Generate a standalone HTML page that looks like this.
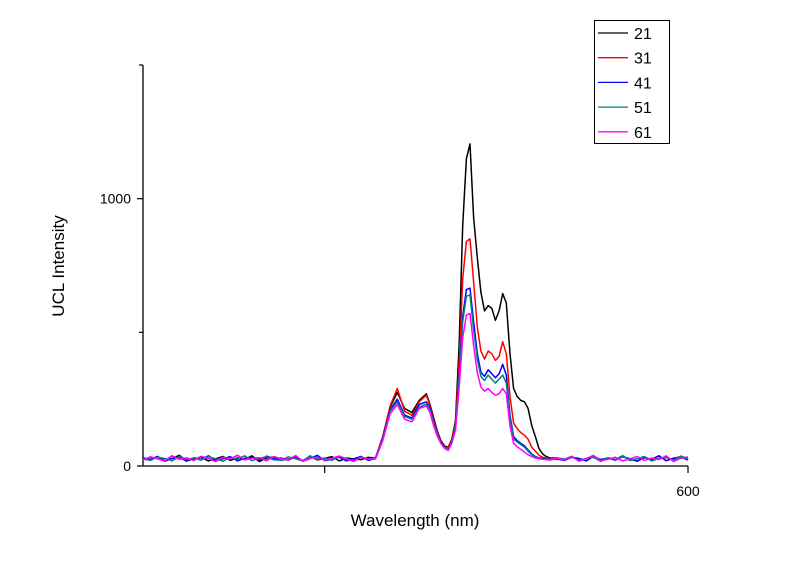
<!DOCTYPE html>
<html><head><meta charset="utf-8"><style>
body{margin:0;background:#fff}
svg{display:block;font-family:"Liberation Sans",Arial,sans-serif}
</style></head><body>
<svg id="chart" width="800" height="561">
<g id="axes"></g>
<g id="series"></g>
<g id="legend"></g>
<text x="415" y="526" font-size="17" text-anchor="middle">Wavelength (nm)</text>
<text transform="translate(64,266) rotate(-90)" font-size="17" text-anchor="middle">UCL Intensity</text>
</svg>
<script>
const wavelengths = [];
for (let w = 450; w <= 528; w += 2) wavelengths.push(w);
for (let w = 529; w <= 562; w += 1) wavelengths.push(w);
for (let w = 564; w <= 600; w += 2) wavelengths.push(w);
const seriesNames = ["21","31","41","51","61"];
const seriesColors = ["#000000","#ff0000","#0000ff","#008080","#ff00ff"];
const baseA = [30,22,35,18,28,40,20,25,33,19,27,36,21,30,24,38,17,29,34,22,26,31,20,37,23,28,35,19,30,26,24,32];
const baseB = [30,25,36,20,28,33,18,31,24,38,21,27,35,19,29,32,22,37,26];
const baseC = [22,34,27,19,38,25,30,21,36,28,17,33,26,40,23,29,31,20,35,27,24,39,18,30,32,22,28,37,25,19,33,26];
const baseD = [26,21,33,28,19,36,24,30,22,35,27,18,31,25,38,20,29,34,23];
const pre21 = [30,110,220,275,215,200,245,270];
const pre31 = [30,110,225,290,205,190,240,265];
const pre41 = [28,105,210,250,190,180,230,240];
const pre51 = [28,100,205,240,185,175,220,232];
const pre61 = [26,95,195,230,175,165,215,225];
const peak21 = [230,180,130,95,75,70,100,170,450,900,1150,1205,930,780,650,580,600,590,545,580,645,610,420,290,260,245,240,215,150,110,65,45,35,30];
const peak31 = [225,170,125,92,72,68,95,160,380,700,840,850,690,520,430,400,430,420,395,410,465,420,260,160,140,125,115,100,70,55,40,32,30,28];
const peak41 = [215,160,120,88,70,60,90,150,330,560,660,665,540,420,350,335,360,345,330,345,380,340,190,110,95,85,75,60,45,35,30,28,26,25];
const peak51 = [210,158,118,86,68,60,88,145,320,540,635,640,510,400,335,320,340,325,310,325,340,310,180,100,90,80,70,55,42,33,28,26,25,24];
const peak61 = [200,150,112,84,66,58,85,135,290,480,565,570,450,350,295,280,290,275,265,270,290,270,150,85,72,62,52,42,35,30,27,25,24,22];
const seriesValues = [
  baseA.concat(pre21, peak21, baseB),
  baseC.concat(pre31, peak31, baseD),
  baseB.concat(baseA.slice(0,13), pre41, peak41, baseD),
  baseD.concat(baseC.slice(0,13), pre51, peak51, baseB),
  baseC.concat(pre61, peak61, baseA.slice(0,19))
];
const yTicks = [0, 500, 1000, 1500];
const yTickLabels = ["0", "", "1000", ""];
const xTicks = [500, 600];
const xTickLabels = ["", "600"];

const X0=143, X1=688, Y0=466, Y1=65;
const xMin=450, xMax=600, yMin=0, yMax=1500;
const sx = w => X0 + (w - xMin) / (xMax - xMin) * (X1 - X0);
const sy = v => Y0 - (v - yMin) / (yMax - yMin) * (Y0 - Y1);
const NS = "http://www.w3.org/2000/svg";
function mk(tag, attrs, parent){ const e=document.createElementNS(NS,tag); for(const k in attrs) e.setAttribute(k,attrs[k]); parent.appendChild(e); return e; }

const axes = document.getElementById('axes');
let l = mk('line',{x1:X0,y1:Y0,x2:X1,y2:Y0,stroke:'#000','stroke-width':1.3},axes);


l = mk('line',{x1:X0,y1:Y0,x2:X0,y2:Y1,stroke:'#000','stroke-width':1.3},axes);


yTicks.forEach((t,i)=>{
  const y = sy(t);
  const tk = mk('line',{x1:X0-(i%2===0?6:4),y1:y,x2:X0,y2:y,stroke:'#000','stroke-width':1.2},axes);
  
  
  if (yTickLabels[i]) {
    const tx = mk('text',{x:X0-12,y:y+5,'font-size':14,'text-anchor':'end'},axes);
    tx.textContent = yTickLabels[i];
    
    
  }
});
xTicks.forEach((t,i)=>{
  const x = sx(t);
  const tk = mk('line',{x1:x,y1:Y0,x2:x,y2:Y0+7,stroke:'#000','stroke-width':1.2},axes);
  
  
  if (xTickLabels[i]) {
    const tx = mk('text',{x:x,y:Y0+30,'font-size':14,'text-anchor':'middle'},axes);
    tx.textContent = xTickLabels[i];
    
    
  }
});

const sg = document.getElementById('series');
seriesValues.forEach((vals,si)=>{
  const d = vals.map((v,i)=>(i?'L':'M')+sx(wavelengths[i]).toFixed(1)+','+sy(v).toFixed(1)).join(' ');
  const p = mk('path',{d:d,fill:'none',stroke:seriesColors[si],'stroke-width':1.5,'stroke-linejoin':'round'},sg);
  
  
});

const lg = document.getElementById('legend');
const box = mk('rect',{x:594.5,y:20.5,width:75,height:123,fill:'#fff',stroke:'#000','stroke-width':1},lg);


seriesNames.forEach((n,i)=>{
  const y = 33 + i*24.7;
  const ln = mk('line',{x1:598,y1:y,x2:628,y2:y,stroke:seriesColors[i],'stroke-width':1.3},lg);
  
  
  const tx = mk('text',{x:634,y:y+6,'font-size':16},lg);
  tx.textContent = n;
  
  
});
</script>
</body></html>
